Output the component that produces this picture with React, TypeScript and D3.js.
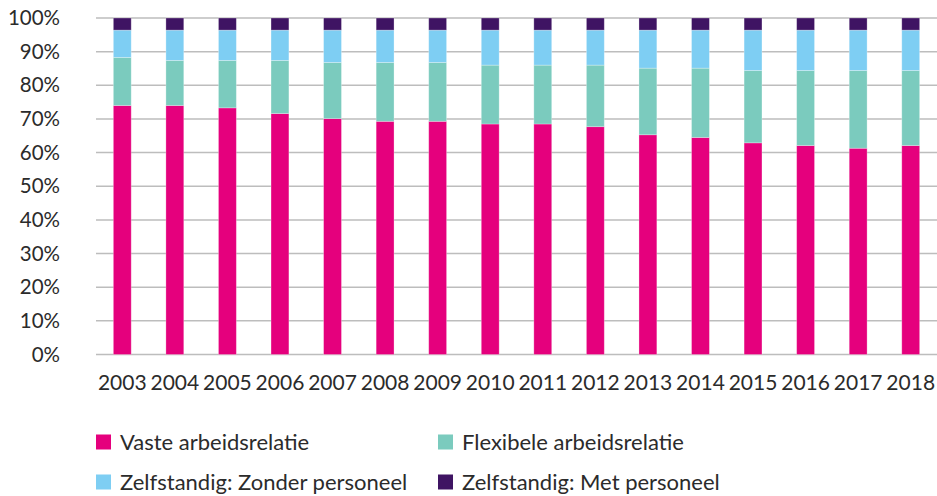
import { useRef, useEffect } from "react";
import * as d3 from "d3";

// Share of workers per type of employment relation (%)
const years = ["2003", "2004", "2005", "2006", "2007", "2008", "2009", "2010", "2011", "2012", "2013", "2014", "2015", "2016", "2017", "2018"];
const vaste = [74.0, 74.0, 73.3, 71.6, 70.1, 69.3, 69.3, 68.5, 68.5, 67.7, 65.3, 64.5, 62.9, 62.1, 61.3, 62.1];
const flexibel = [14.3, 13.4, 14.1, 15.8, 16.7, 17.5, 17.5, 17.5, 17.5, 18.3, 19.8, 20.6, 21.5, 22.3, 23.1, 22.3];
const zonderPersoneel = [8.1, 9.0, 9.0, 9.0, 9.6, 9.6, 9.6, 10.4, 10.4, 10.4, 11.3, 11.3, 12.0, 12.0, 12.0, 12.0];
const metPersoneel = [3.6, 3.6, 3.6, 3.6, 3.6, 3.6, 3.6, 3.6, 3.6, 3.6, 3.6, 3.6, 3.6, 3.6, 3.6, 3.6];
const seriesNames = ["Vaste arbeidsrelatie", "Flexibele arbeidsrelatie", "Zelfstandig: Zonder personeel", "Zelfstandig: Met personeel"];
const colors = ["#e5007d", "#7bcbbe", "#7ecef3", "#3f1463"];
const yTicks = [0, 10, 20, 30, 40, 50, 60, 70, 80, 90, 100];

const W = 937;
const H = 496;
const FONT = "Lato, 'Open Sans', sans-serif";

export default function App() {
  const svgRef = useRef<SVGSVGElement>(null);

  useEffect(() => {
    const svg = d3.select(svgRef.current);
    svg.selectAll("*").remove();

    const keys = ["vaste", "flex", "zonder", "met"];
    const table = years.map((y, i) => ({
      year: y,
      vaste: vaste[i],
      flex: flexibel[i],
      zonder: zonderPersoneel[i],
      met: metPersoneel[i],
    }));

    const x = d3.scaleBand().domain(years).range([96, 937]).paddingInner(0.66).paddingOuter(0.33);
    const y = d3.scaleLinear().domain([0, 100]).range([354.5, 18]);

    // gridlines
    svg
      .append("g")
      .selectAll("line")
      .data(yTicks)
      .join("line")
      .attr("x1", 96)
      .attr("x2", W)
      .attr("y1", (d) => y(d))
      .attr("y2", (d) => y(d))
      .attr("stroke", "#bdbdbd")
      .attr("stroke-width", 1.5);

    // y labels
    svg
      .append("g")
      .selectAll("text")
      .data(yTicks)
      .join("text")
      .attr("x", 60)
      .attr("y", (d) => y(d))
      .attr("dy", "0.35em")
      .attr("text-anchor", "end")
      .attr("font-family", FONT)
      .attr("font-size", 20.5)
      .attr("fill", "#2b2b2b")
      .text((d) => `${d}%`);

    // stacked bars
    const stack = d3.stack<any>().keys(keys)(table);
    svg
      .append("g")
      .selectAll("g")
      .data(stack)
      .join("g")
      .attr("fill", (_, i) => colors[i])
      .selectAll("rect")
      .data((d) => d)
      .join("rect")
      .attr("x", (d) => x(d.data.year)!)
      .attr("width", x.bandwidth())
      .attr("y", (d) => y(d[1]))
      .attr("height", (d) => y(d[0]) - y(d[1]))
      .attr("stroke", "#fff")
      .attr("stroke-opacity", 0.35)
      .attr("stroke-width", 0.8);

    // x labels
    svg
      .append("g")
      .selectAll("text")
      .data(years)
      .join("text")
      .attr("x", (d) => x(d)! + x.bandwidth() / 2)
      .attr("y", 390)
      .attr("text-anchor", "middle")
      .attr("font-family", FONT)
      .attr("font-size", 21)
      .attr("fill", "#2b2b2b")
      .text((d) => d);

    // legend
    const legendPos = [
      [96, 442],
      [438, 442],
      [96, 482],
      [438, 482],
    ];
    const lg = svg
      .append("g")
      .selectAll("g")
      .data(seriesNames)
      .join("g")
      .attr("transform", (_, i) => `translate(${legendPos[i][0]},${legendPos[i][1]})`);
    lg.append("rect")
      .attr("x", 0)
      .attr("y", -7.5)
      .attr("width", 15)
      .attr("height", 15)
      .attr("fill", (_, i) => colors[i]);
    lg.append("text")
      .attr("x", 24)
      .attr("y", 0)
      .attr("dy", "0.35em")
      .attr("font-family", FONT)
      .attr("font-size", 22)
      .attr("fill", "#2b2b2b")
      .text((d) => d);
  }, []);

  return (
    <svg
      ref={svgRef}
      width={W}
      height={H}
      style={{ position: "absolute", left: 0, top: 0, background: "#fff" }}
    />
  );
}
